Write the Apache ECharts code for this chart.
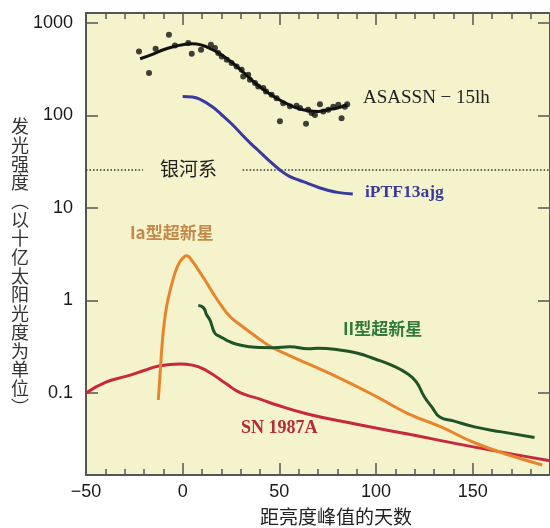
<!DOCTYPE html>
<html>
<head>
<meta charset="utf-8">
<script src="https://cdn.jsdelivr.net/npm/echarts@6/dist/echarts.min.js"></script>
<style>
  html, body { margin: 0; padding: 0; background: #fff; }
  #main { width: 550px; height: 528px; }
</style>
</head>
<body>
<div id="main"></div>
<script>
// ASASSN-15lh observed points [day, luminosity]
const asassnPoints = [
  [-22.6, 490], [-17.4, 286], [-14.0, 524], [-7.1, 741], [-4.0, 569], [2.9, 604],
  [4.7, 462], [9.5, 511], [14.6, 578], [16.7, 532], [18.4, 470], [20.2, 432],
  [22.8, 398], [25.3, 367], [27.9, 337], [30.5, 310], [31.3, 263], [33.9, 274],
  [34.8, 242], [37.4, 223], [39.1, 205], [41.7, 197], [43.1, 181], [46.0, 167],
  [48.6, 153], [50.3, 86], [52.0, 135], [55.5, 125], [58.9, 127], [60.7, 120],
  [63.8, 81], [64.9, 115], [66.7, 106], [68.4, 101], [71.0, 132], [72.7, 110],
  [75.3, 115], [77.9, 124], [80.5, 130], [82.2, 93], [83.9, 124], [85.1, 132]
]
// ASASSN-15lh fitted curve
const asassnFit = [
  [-22, 408], [-15, 462], [-10, 511], [-5, 550], [0, 578], [5, 593], [10, 571],
  [15, 517], [20, 451], [25, 379], [30, 310], [35, 248], [40, 203], [45, 171],
  [50, 147], [55, 130], [60, 118], [65, 112], [70, 110], [75, 115], [80, 120], [85, 130]
]
const iptfCurve = [
  [0, 160], [5, 158], [10, 145], [15, 125], [20, 102], [25, 82], [30, 64], [35, 50],
  [40, 40], [45, 32], [50, 26], [55, 22], [60, 20], [65, 18.3], [70, 16.7], [75, 15.5],
  [80, 14.7], [88, 14.1]
]
const typeIaCurve = [
  [-12.6, 0.084], [-11.7, 0.16], [-10.8, 0.3], [-10, 0.47], [-8.3, 0.86], [-6.6, 1.25],
  [-4, 1.97], [-2, 2.5], [0, 2.85], [2, 3.03], [5, 2.65], [8, 2.15], [12, 1.6],
  [16, 1.17], [20, 0.88], [24.5, 0.67], [30, 0.54], [37, 0.42], [45, 0.322], [55, 0.255],
  [65, 0.206], [82, 0.142], [100, 0.092], [116.5, 0.06], [133.6, 0.043], [151, 0.029],
  [170, 0.021], [186, 0.0167]
]
const typeIICurve = [
  [8.1, 0.88], [10.7, 0.836], [12.4, 0.70], [14.1, 0.615], [15, 0.543], [16.7, 0.442],
  [19, 0.41], [21, 0.39], [24, 0.36], [27.9, 0.336], [34.8, 0.316], [40, 0.31],
  [46.8, 0.309], [55.5, 0.316], [65, 0.30], [70, 0.305], [82, 0.29], [90, 0.27],
  [99.5, 0.233], [108, 0.2], [116.5, 0.16], [121, 0.13], [125, 0.091], [129, 0.07],
  [133, 0.055], [140, 0.05], [151, 0.043], [165, 0.038], [182, 0.033]
]
const sn1987aCurve = [
  [-50, 0.1], [-40, 0.13], [-30, 0.15], [-25.6, 0.16], [-20, 0.175], [-11.7, 0.197],
  [-1.4, 0.206], [5, 0.2], [12.4, 0.174], [22.7, 0.125], [30, 0.1], [40, 0.086],
  [47, 0.076], [65, 0.059], [90, 0.046], [116.5, 0.036], [151, 0.026], [190, 0.0185]
]
// Milky Way level (dotted), broken where the label sits
const milkyWay = [[-50, 25.7], [-20.5, 25.7], [5, '-'], [31, 25.7], [190, 25.7]]

const xTicks = { min: -50, max: 190, interval: 50 }
const yRange = { min: 0.013, max: 1274 }

const frame = '#555'
const vText = '发光强度︵以十亿太阳光度为单位︶'.split('').join('\n')

function xAxis(pos, labels) {
  return {
    type: 'value', position: pos, min: xTicks.min, max: xTicks.max, interval: xTicks.interval,
    axisLine: { show: true, onZero: false, lineStyle: { color: frame, width: 2 } },
    axisTick: { show: true, inside: true, length: 12, lineStyle: { color: frame, width: 1.5 } },
    minorTick: { show: true, splitNumber: 5, length: 6, lineStyle: { color: frame, width: 1.5 } },
    splitLine: { show: false },
    axisLabel: {
      show: labels, fontSize: 18, color: '#1a1a1a', margin: 8, fontFamily: 'Liberation Sans',
      showMaxLabel: false,
      formatter: v => v < 0 ? '\u2212' + (-v) : String(v)
    }
  }
}
function yAxis(pos, labels) {
  return {
    type: 'log', logBase: 10, position: pos, min: yRange.min, max: yRange.max,
    axisLine: { show: true, onZero: false, lineStyle: { color: frame, width: 2 } },
    axisTick: { show: true, inside: true, length: 12, lineStyle: { color: frame, width: 1.5 } },
    splitLine: { show: false },
    axisLabel: {
      show: labels, fontSize: 18, color: '#1a1a1a', margin: 13, fontFamily: 'Liberation Sans',
      showMinLabel: false, showMaxLabel: false,
      formatter: v => String(+(+v).toPrecision(4))
    }
  }
}
function curve(data, color) {
  return {
    type: 'line', data: data, xAxisIndex: 0, yAxisIndex: 0, smooth: 0.5,
    showSymbol: false, lineStyle: { color: color, width: 3 }, z: 3
  }
}

const chart = echarts.init(document.getElementById('main'))
chart.setOption({
  animation: false,
  grid: { left: 86, top: 13, width: 464, height: 462, show: true, backgroundColor: '#f5f3cb', borderWidth: 0 },
  xAxis: [xAxis('bottom', true), xAxis('top', false)],
  yAxis: [yAxis('left', true), yAxis('right', false)],
  series: [
    {
      type: 'line', data: milkyWay, showSymbol: false, connectNulls: false,
      lineStyle: { color: '#333', width: 1.5, type: [1.5, 2] }, z: 2
    },
    curve(sn1987aCurve, '#c8283e'),
    curve(typeIaCurve, '#e8842c'),
    curve(typeIICurve, '#1f5328'),
    curve(iptfCurve, '#3a3a9e'),
    curve(asassnFit, '#111'),
    {
      type: 'scatter', data: asassnPoints, symbolSize: 6, itemStyle: { color: '#111' }, z: 4
    }
  ],
  graphic: [
    { type: 'text', left: 363, top: 89, style: { text: 'ASASSN \u2212 15lh', font: '19px "Liberation Serif"', fill: '#222' } },
    { type: 'text', left: 365, top: 183, style: { text: 'iPTF13ajg', font: 'bold 17.5px "Liberation Serif"', fill: '#3a3a9e' } },
    { type: 'text', left: 160, top: 159, style: { text: '银河系', font: '19px "Noto Sans CJK SC"', fill: '#222' } },
    { type: 'text', left: 130, top: 224, style: { text: 'Ia型超新星', font: 'bold 17px "Noto Sans CJK SC"', fill: '#c48848' } },
    { type: 'text', left: 343, top: 320, style: { text: 'II型超新星', font: 'bold 17px "Noto Sans CJK SC"', fill: '#2f7a3a' } },
    { type: 'text', left: 241, top: 419, style: { text: 'SN 1987A', font: 'bold 18px "Liberation Serif"', fill: '#b52a3a' } },
    { type: 'text', left: 260, top: 507, style: { text: '距亮度峰值的天数', font: '19px "Noto Sans CJK SC"', fill: '#222' } },
    {
      type: 'text', x: 20, y: 117,
      style: { text: vText, font: '18px "Noto Sans CJK SC"', fill: '#333', align: 'center', lineHeight: 18.7 }
    }
  ]
})
</script>
</body>
</html>
